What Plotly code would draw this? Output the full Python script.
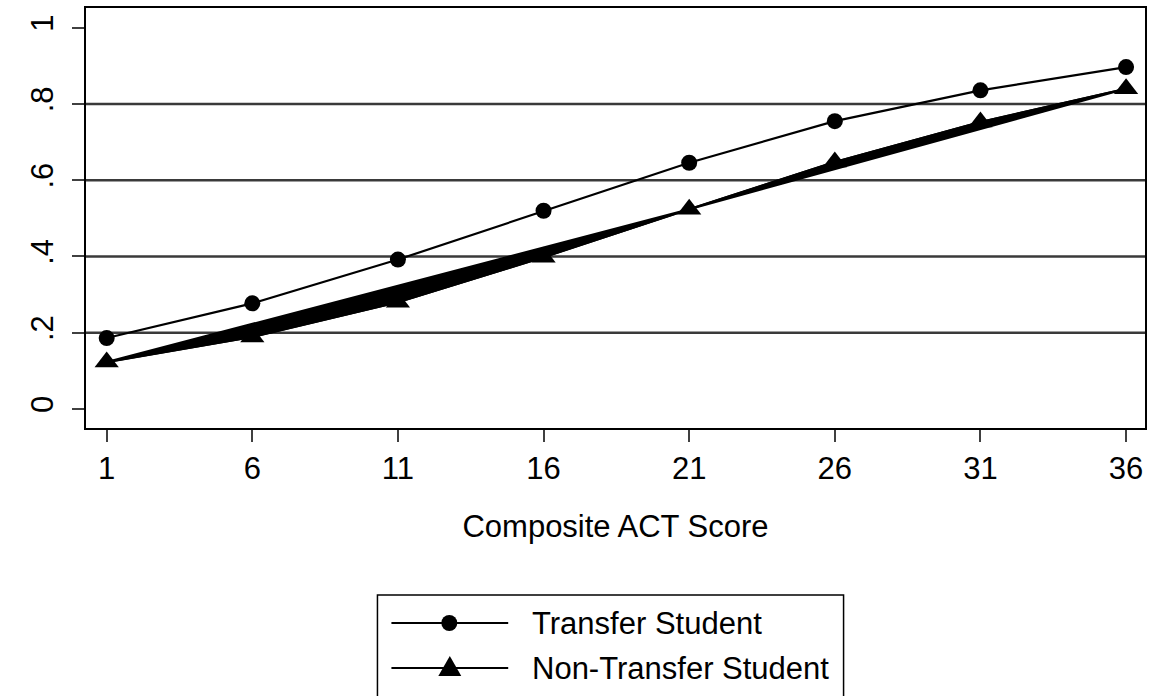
import plotly.graph_objects as go

act_scores = [1, 6, 11, 16, 21, 26, 31, 36]
transfer = [0.186, 0.277, 0.392, 0.520, 0.646, 0.755, 0.836, 0.897]
non_transfer = [0.123, 0.189, 0.280, 0.398, 0.524, 0.648, 0.753, 0.840]
y_tickvals = [0, 0.2, 0.4, 0.6, 0.8, 1]
y_ticktext = ["0", ".2", ".4", ".6", ".8", "1"]
x_tickvals = [1, 6, 11, 16, 21, 26, 31, 36]
series_names = ["Transfer Student", "Non-Transfer Student"]

W, H = 1151, 696
L, R, T, B = 86, 1147, 8, 428  # plot area in page pixels
FONT = "Liberation Sans, Arial, sans-serif"
FS = 31


def px(x):
    return (x - L) / (R - L)


def py(y):
    return (B - y) / (B - T)


fig = go.Figure()

# band for non-transfer: path through points, then back along straight segments
band_x = act_scores + [act_scores[4], act_scores[0]]
band_y = non_transfer + [non_transfer[4], non_transfer[0]]
fig.add_trace(go.Scatter(
    x=band_x, y=band_y, mode="lines", fill="toself",
    fillcolor="black", line=dict(color="black", width=2),
    hoverinfo="skip", showlegend=False,
))

fig.add_trace(go.Scatter(
    x=act_scores, y=transfer, mode="lines+markers", name=series_names[0],
    line=dict(color="black", width=2.2),
    marker=dict(symbol="circle", size=16, color="black"),
    showlegend=False,
))
fig.add_trace(go.Scatter(
    x=act_scores, y=non_transfer, mode="lines+markers", name=series_names[1],
    line=dict(color="black", width=2.2),
    marker=dict(symbol="triangle-up", size=21, color="black"),
    showlegend=False,
))

shapes = []
annotations = []
# custom legend box
shapes.append(dict(type="rect", xref="paper", yref="paper",
                   x0=px(378), x1=px(845), y0=py(710), y1=py(595),
                   line=dict(color="black", width=1.5), fillcolor="white", layer="above"))
rows = [623, 668]
for i, ry in enumerate(rows):
    shapes.append(dict(type="line", xref="paper", yref="paper",
                       x0=px(392), x1=px(509), y0=py(ry), y1=py(ry),
                       line=dict(color="black", width=2.2)))
    annotations.append(dict(text=series_names[i], xref="paper", yref="paper",
                            x=px(531), y=py(ry), xanchor="left", yanchor="middle",
                            showarrow=False, font=dict(family=FONT, size=FS, color="black")))
# legend symbols
shapes.append(dict(type="circle", xref="paper", yref="paper",
                   x0=px(442), x1=px(458), y0=py(631), y1=py(615),
                   fillcolor="black", line=dict(color="black", width=0)))
tri = "M {},{} L {},{} L {},{} Z".format(px(439), py(676), px(462), py(676), px(450.5), py(656))
shapes.append(dict(type="path", xref="paper", yref="paper", path=tri,
                   fillcolor="black", line=dict(color="black", width=0)))

fig.update_layout(
    width=W, height=H,
    margin=dict(l=L, r=W - R, t=T, b=H - B, pad=0),
    paper_bgcolor="white", plot_bgcolor="white",
    font=dict(family=FONT, size=FS, color="black"),
    shapes=shapes, annotations=annotations,
    showlegend=False,
)
fig.update_xaxes(
    range=[0.29, 36.65], tickvals=x_tickvals,
    showgrid=False, zeroline=False,
    showline=True, linecolor="black", linewidth=2, mirror=True,
    ticks="outside", ticklen=12, tickwidth=2, tickcolor="#404040",
    tickfont=dict(family=FONT, size=FS, color="black"),
    title=dict(text="Composite ACT Score", standoff=30,
               font=dict(family=FONT, size=FS, color="black")),
)
fig.update_yaxes(
    range=[-0.05, 1.052], tickvals=y_tickvals, ticktext=y_ticktext,
    showgrid=False, zeroline=False,
    showline=True, linecolor="black", linewidth=2, mirror=True,
    ticks="outside", ticklen=12, tickwidth=2, tickcolor="#404040",
    tickangle=-90, ticklabelstandoff=7,
    tickfont=dict(family=FONT, size=FS, color="black"),
)
for g in [0.2, 0.4, 0.6, 0.8]:
    fig.add_shape(type="line", xref="paper", yref="y", x0=0, x1=1, y0=g, y1=g,
                  line=dict(color="#3a3a3a", width=2.5), layer="below")

fig.write_html(
    "out.html",
    config={"displayModeBar": False},
    post_script="document.body.style.margin='0';document.body.style.overflow='hidden';",
)
